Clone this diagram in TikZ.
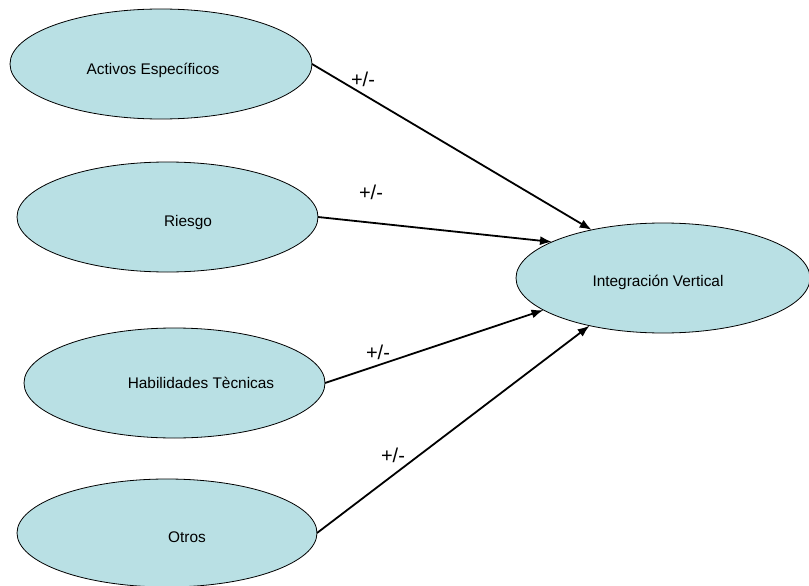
\documentclass[tikz,border=0pt]{standalone}
\usepackage{fontspec}
\setmainfont{Liberation Sans}
\usetikzlibrary{shapes.geometric,arrows.meta}
\definecolor{factorfill}{RGB}{185,224,228}
\begin{document}
\begin{tikzpicture}[x=1pt,y=-1pt,
  factor/.style={ellipse, draw=black, line width=0.8pt, fill=factorfill,
    inner sep=0pt, outer sep=0pt},
  caption/.style={font=\fontsize{15.4}{18}\selectfont, inner sep=0pt},
  sign/.style={font=\fontsize{20}{24}\selectfont, inner sep=0pt},
  flow/.style={line width=1.8pt, -{Latex[length=12pt,width=9pt]}}]
\useasboundingbox (0,0) rectangle (809,586);

% factor ellipses
\node[factor, minimum width=302pt, minimum height=110pt] (act) at (161,64) {};
\node[factor, minimum width=301pt, minimum height=110pt] (rie) at (167.5,217) {};
\node[factor, minimum width=301pt, minimum height=110pt] (hab) at (174.5,383) {};
\node[factor, minimum width=300pt, minimum height=108pt] (otr) at (167,533) {};
\node[factor, minimum width=294pt, minimum height=110pt] (int) at (663,278) {};

% ellipse captions
\node[caption] (tact) at (153,70) {Activos Específicos};
\node[caption] (trie) at (188,223) {Riesgo};
\node[caption] (thab) at (201,383) {Habilidades Tècnicas};
\node[caption] (totr) at (187,537) {Otros};
\node[caption] (tint) at (658,282) {Integración Vertical};

% influences
\draw[flow] (act.east) -- (int.146);
\draw[flow] (rie.east) -- (int.162.5);
\draw[flow] (hab.east) -- (int.195);
\draw[flow] (otr.east) -- (int.213);

% signs
\node[sign] (s1) at (363,79) {+/-};
\node[sign] (s2) at (371,192) {+/-};
\node[sign] (s3) at (378,352) {+/-};
\node[sign] (s4) at (393,455) {+/-};
\end{tikzpicture}
\end{document}
